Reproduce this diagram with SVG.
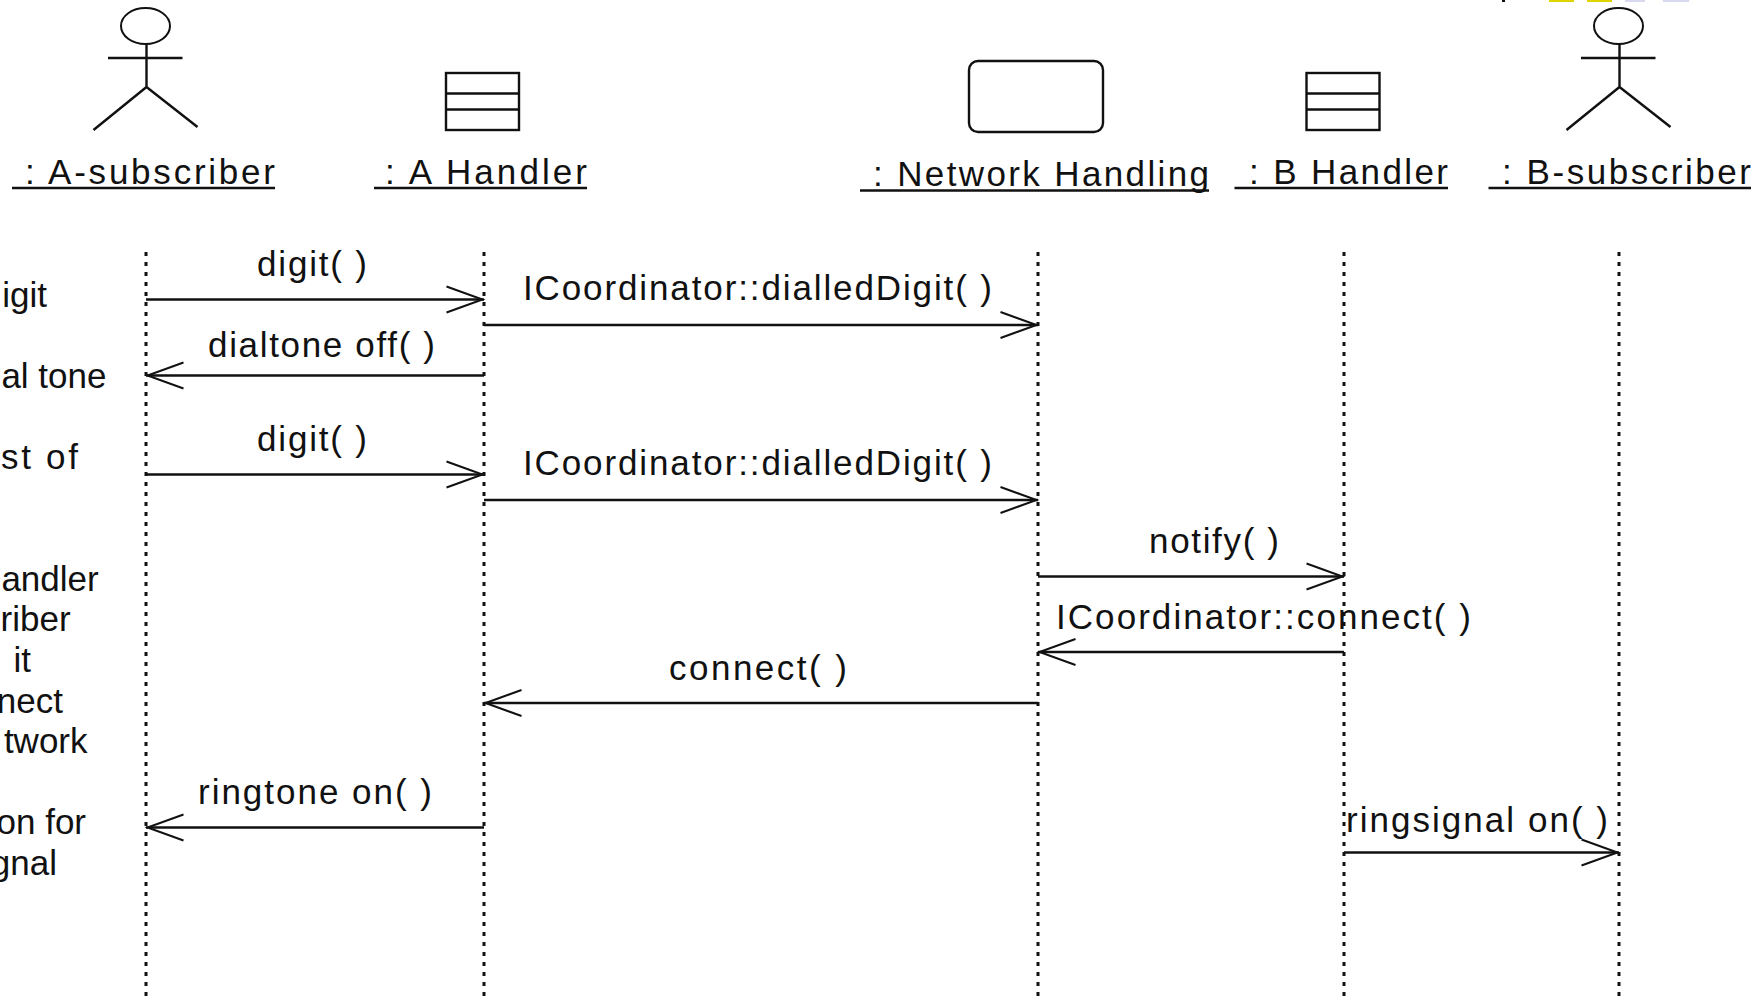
<svg xmlns="http://www.w3.org/2000/svg" width="1758" height="999" viewBox="0 0 1758 999">
<style>
text{font-family:"Liberation Sans",Arial,sans-serif;font-size:35px;fill:#111}
.l{stroke:#111;stroke-width:2.4;fill:none}
.t{stroke:#111;stroke-width:2;fill:none}
.life{stroke:#111;stroke-width:3;stroke-dasharray:4 6;fill:none}
.msg{stroke:#111;stroke-width:2.4;fill:none;marker-end:url(#open)}
</style>
<defs>
<marker id="open" markerUnits="userSpaceOnUse" markerWidth="44" markerHeight="32" refX="38.500" refY="15" orient="auto">
<path d="M1 2 L37 15 L1 28" fill="none" stroke="#111" stroke-width="2"/>
</marker>
<g id="actor"><ellipse cx="-1" cy="26" rx="24.5" ry="18" class="t"/><path class="l" d="M0 44V87M-38.500 58H36M0 87L-53 130M0 87L51 127"/></g>
<g id="cls"><rect x="0" y="1" width="73" height="57" class="l"/><path class="l" d="M0 21.500H73M0 37.500H73"/></g>
</defs>
<rect width="1758" height="999" fill="#fff"/>
<g id="top-fragment">
<rect x="1502" y="0" width="3" height="2" fill="#111"/>
<rect x="1549" y="0" width="25" height="2" fill="#e0d400"/>
<rect x="1587" y="0" width="25" height="2" fill="#e0d400"/>
<rect x="1625" y="0" width="20" height="2" fill="#d8d8f0"/>
<rect x="1663" y="0" width="26" height="2" fill="#d8d8f0"/>
</g>
<g id="a-subscriber"><use href="#actor" x="146.500"/><text x="25" y="184" textLength="250">:  A-subscriber</text><path class="l" d="M12 188H275"/><path class="life" d="M146 252V999"/></g>
<g id="a-handler"><use href="#cls" x="446" y="72"/><text x="385" y="184" textLength="202">:  A Handler</text><path class="l" d="M374 188H587"/><path class="life" d="M484 252V999"/></g>
<g id="network-handling"><rect x="969" y="61" width="134" height="71" rx="9" class="l"/><text x="873" y="186" textLength="336">:  Network Handling</text><path class="l" d="M860 190.500H1209"/><path class="life" d="M1038 252V999"/></g>
<g id="b-handler"><use href="#cls" x="1306.500" y="72"/><text x="1249" y="184" textLength="199">:  B Handler</text><path class="l" d="M1234.500 188H1448"/><path class="life" d="M1344 252V999"/></g>
<g id="b-subscriber"><use href="#actor" x="1619.500"/><text x="1502" y="184" textLength="249">:  B-subscriber</text><path class="l" d="M1488.500 188H1751"/><path class="life" d="M1619 252V999"/></g>
<g id="notes">
<text x="47" y="307" text-anchor="end">igit</text>
<text x="106.500" y="388" text-anchor="end">al tone</text>
<text x="1" y="469" textLength="77">st of</text>
<text x="98.700" y="591" text-anchor="end">andler</text>
<text x="70.600" y="631" text-anchor="end">riber</text>
<text x="31" y="671.500" text-anchor="end">it</text>
<text x="63" y="713" text-anchor="end">nect</text>
<text x="87.500" y="753" text-anchor="end">twork</text>
<text x="86" y="834" text-anchor="end">on for</text>
<text x="57" y="875" text-anchor="end">gnal</text>
</g>
<g id="connectors">
<path class="msg" d="M146 299.500H484"/>
<path class="msg" d="M484 325H1038"/>
<path class="msg" d="M484 375.500H146"/>
<path class="msg" d="M146 474.500H484"/>
<path class="msg" d="M484 500H1038"/>
<path class="msg" d="M1038 576.500H1344"/>
<path class="msg" d="M1344 652H1038"/>
<path class="msg" d="M1038 703H484"/>
<path class="msg" d="M484 827.500H146"/>
<path class="msg" d="M1344 852.500H1619"/>
</g>
<g id="labels">
<text x="257" y="275.500" textLength="110">digit( )</text>
<text x="523" y="300" textLength="469">ICoordinator::dialledDigit( )</text>
<text x="208" y="356.500" textLength="227">dialtone off( )</text>
<text x="257" y="450.500" textLength="110">digit( )</text>
<text x="523" y="475" textLength="469">ICoordinator::dialledDigit( )</text>
<text x="1149" y="553" textLength="130">notify( )</text>
<text x="1056" y="628.500" textLength="415">ICoordinator::connect( )</text>
<text x="669" y="679.500" textLength="178">connect( )</text>
<text x="198" y="803.500" textLength="234">ringtone on( )</text>
<text x="1346" y="831.500" textLength="262">ringsignal on( )</text>
</g>
</svg>
